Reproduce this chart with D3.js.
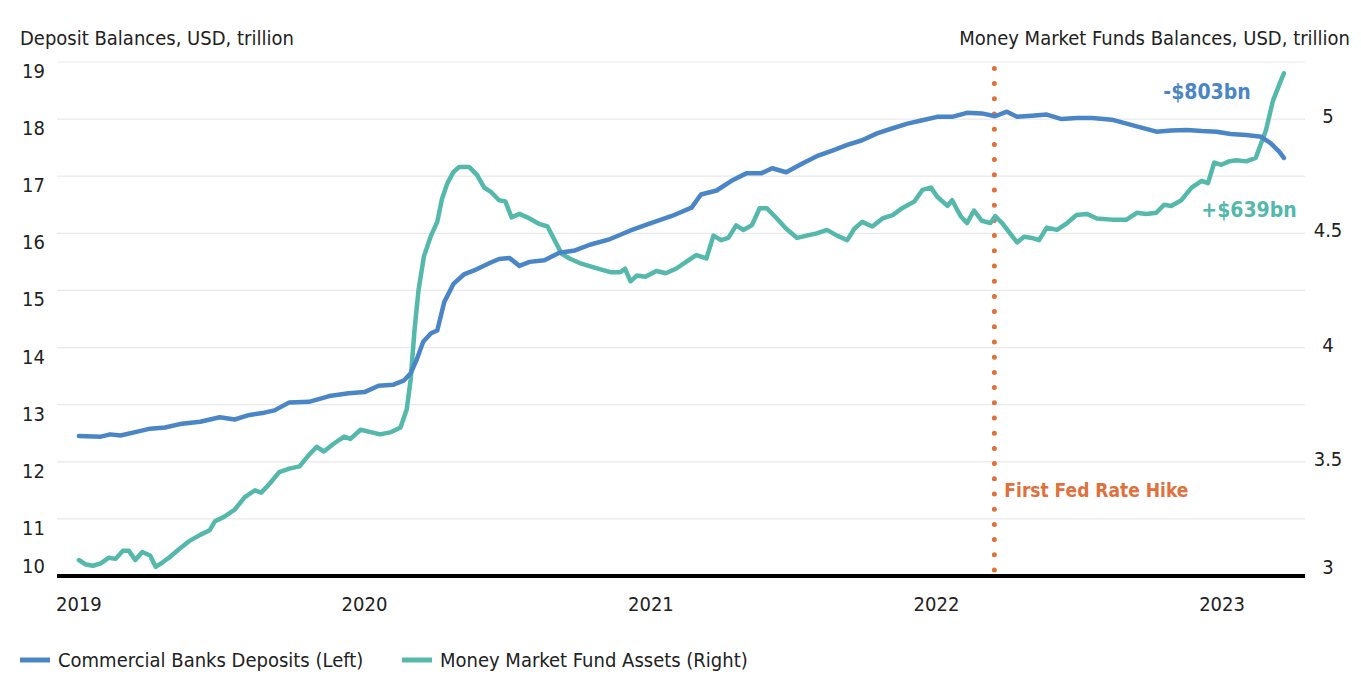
<!DOCTYPE html>
<html>
<head>
<meta charset="utf-8">
<script src="https://cdn.jsdelivr.net/npm/d3@7"></script>
<style>
  body { margin: 0; background: #fff; }
  text { font-family: "Liberation Sans Narrow", "DejaVu Sans Condensed", "Roboto", sans-serif; fill: #222; }
</style>
</head>
<body>
<div id="chart"></div>
<script>
// deposits (left axis), decimal years and USD trillion
const depositTimes = [2019.000, 2019.076, 2019.110, 2019.146, 2019.198, 2019.250, 2019.300, 2019.354, 2019.424, 2019.493,
  2019.545, 2019.597, 2019.649, 2019.684, 2019.736, 2019.806, 2019.875, 2019.944, 2020.000, 2020.049,
  2020.102, 2020.137, 2020.162, 2020.183, 2020.204, 2020.232, 2020.254, 2020.278, 2020.313, 2020.349,
  2020.384, 2020.437, 2020.472, 2020.507, 2020.542, 2020.577, 2020.630, 2020.683, 2020.736, 2020.789,
  2020.859, 2020.930, 2021.000, 2021.070, 2021.141, 2021.176, 2021.229, 2021.282, 2021.335, 2021.387,
  2021.423, 2021.475, 2021.528, 2021.581, 2021.634, 2021.687, 2021.739, 2021.792, 2021.845, 2021.898,
  2021.951, 2022.003, 2022.056, 2022.108, 2022.160, 2022.206, 2022.247, 2022.282, 2022.334, 2022.387,
  2022.439, 2022.491, 2022.544, 2022.613, 2022.666, 2022.718, 2022.770, 2022.822, 2022.875, 2022.927,
  2022.979, 2023.031, 2023.084, 2023.136, 2023.171, 2023.199, 2023.216];
const depositValues = [12.45, 12.44, 12.48, 12.46, 12.52, 12.58, 12.60, 12.66, 12.70, 12.78,
  12.74, 12.82, 12.86, 12.90, 13.04, 13.05, 13.15, 13.20, 13.22, 13.33,
  13.35, 13.42, 13.55, 13.80, 14.10, 14.25, 14.30, 14.80, 15.12, 15.28,
  15.35, 15.48, 15.55, 15.57, 15.43, 15.50, 15.53, 15.66, 15.70, 15.80,
  15.90, 16.05, 16.18, 16.30, 16.45, 16.68, 16.75, 16.92, 17.05, 17.05,
  17.14, 17.07, 17.22, 17.35, 17.45, 17.55, 17.63, 17.75, 17.84, 17.92,
  17.98, 18.04, 18.04, 18.11, 18.10, 18.05, 18.13, 18.04, 18.06, 18.08,
  18.00, 18.02, 18.02, 17.99, 17.92, 17.85, 17.78, 17.80, 17.81, 17.79,
  17.78, 17.74, 17.72, 17.69, 17.58, 17.43, 17.32];

// money market fund assets (right axis), decimal years and USD trillion
const mmfTimes = [2019.000, 2019.024, 2019.049, 2019.076, 2019.104, 2019.128, 2019.153, 2019.174, 2019.198, 2019.222,
  2019.250, 2019.267, 2019.292, 2019.319, 2019.354, 2019.389, 2019.424, 2019.458, 2019.476, 2019.510,
  2019.545, 2019.580, 2019.615, 2019.639, 2019.667, 2019.701, 2019.736, 2019.771, 2019.806, 2019.833,
  2019.858, 2019.892, 2019.927, 2019.951, 2019.986, 2020.021, 2020.056, 2020.092, 2020.127, 2020.148,
  2020.162, 2020.176, 2020.190, 2020.208, 2020.232, 2020.254, 2020.271, 2020.289, 2020.313, 2020.331,
  2020.366, 2020.394, 2020.419, 2020.444, 2020.472, 2020.493, 2020.514, 2020.542, 2020.570, 2020.613,
  2020.641, 2020.665, 2020.690, 2020.718, 2020.754, 2020.806, 2020.859, 2020.894, 2020.912, 2020.930,
  2020.954, 2020.982, 2021.018, 2021.053, 2021.088, 2021.123, 2021.158, 2021.194, 2021.218, 2021.246,
  2021.271, 2021.299, 2021.324, 2021.352, 2021.380, 2021.405, 2021.440, 2021.475, 2021.511, 2021.546,
  2021.581, 2021.616, 2021.651, 2021.687, 2021.711, 2021.739, 2021.775, 2021.810, 2021.845, 2021.880,
  2021.923, 2021.951, 2021.979, 2022.003, 2022.038, 2022.056, 2022.084, 2022.108, 2022.132, 2022.160,
  2022.188, 2022.206, 2022.230, 2022.258, 2022.282, 2022.307, 2022.334, 2022.359, 2022.387, 2022.422,
  2022.456, 2022.491, 2022.526, 2022.561, 2022.613, 2022.666, 2022.700, 2022.735, 2022.770, 2022.798,
  2022.822, 2022.857, 2022.892, 2022.927, 2022.951, 2022.972, 2022.997, 2023.024, 2023.049, 2023.084,
  2023.118, 2023.153, 2023.178, 2023.199, 2023.216];
const mmfValues = [3.070, 3.050, 3.045, 3.055, 3.080, 3.075, 3.110, 3.110, 3.070, 3.105,
  3.090, 3.040, 3.060, 3.085, 3.120, 3.155, 3.180, 3.200, 3.240, 3.260,
  3.290, 3.345, 3.375, 3.365, 3.405, 3.455, 3.470, 3.480, 3.530, 3.565,
  3.545, 3.580, 3.610, 3.600, 3.640, 3.630, 3.620, 3.630, 3.650, 3.730,
  3.860, 4.080, 4.250, 4.400, 4.490, 4.550, 4.650, 4.720, 4.770, 4.790,
  4.790, 4.755, 4.700, 4.680, 4.645, 4.640, 4.570, 4.585, 4.570, 4.540,
  4.530, 4.470, 4.410, 4.390, 4.370, 4.350, 4.330, 4.330, 4.345, 4.290,
  4.315, 4.310, 4.335, 4.325, 4.345, 4.375, 4.405, 4.390, 4.490, 4.470,
  4.480, 4.535, 4.515, 4.535, 4.610, 4.610, 4.565, 4.520, 4.480, 4.490,
  4.500, 4.515, 4.490, 4.470, 4.520, 4.550, 4.530, 4.565, 4.580, 4.610,
  4.640, 4.690, 4.700, 4.660, 4.620, 4.645, 4.575, 4.545, 4.600, 4.555,
  4.545, 4.575, 4.545, 4.500, 4.460, 4.485, 4.480, 4.470, 4.525, 4.515,
  4.545, 4.580, 4.585, 4.565, 4.560, 4.560, 4.590, 4.585, 4.590, 4.625,
  4.620, 4.645, 4.700, 4.730, 4.720, 4.810, 4.800, 4.815, 4.820, 4.815,
  4.830, 4.950, 5.080, 5.150, 5.200];

const leftTicks = [10, 11, 12, 13, 14, 15, 16, 17, 18, 19];
const rightTicks = [3, 3.5, 4, 4.5, 5];
const yearTicks = [2019, 2020, 2021, 2022, 2023];
const hikeDate = "2022-03-16";
const seriesNames = ["Commercial Banks Deposits (Left)", "Money Market Fund Assets (Right)"];
const changeLabels = ["-$803bn", "+$639bn"];

const colors = { deposits: "#4a86c6", mmf: "#54b8aa", hike: "#e0703c", grid: "#e9e9e9" };

const width = 1361, height = 684;
const margin = { top: 62, right: 56, bottom: 108, left: 57 };

function toDate(t) {
  const y = Math.floor(t);
  return new Date(y, 0, 1 + Math.round((t - y) * 365.25));
}

const deposits = depositTimes.map((t, i) => ({ date: toDate(t), value: depositValues[i] }));
const mmf = mmfTimes.map((t, i) => ({ date: toDate(t), value: mmfValues[i] }));

const svg = d3.select("#chart").append("svg")
  .attr("width", width)
  .attr("height", height);

const x = d3.scaleTime()
  .domain([new Date(2018, 11, 4), new Date(2023, 3, 17)])
  .range([margin.left, width - margin.right]);

const yLeft = d3.scaleLinear()
  .domain([10, 19])
  .range([height - margin.bottom, margin.top]);

const yRight = d3.scaleLinear()
  .domain([3, 5.25])
  .range([height - margin.bottom, margin.top]);

// gridlines
svg.append("g")
  .attr("class", "grid")
  .selectAll("line")
  .data(leftTicks.slice(1))
  .enter()
  .append("line")
  .attr("x1", margin.left)
  .attr("x2", width - margin.right)
  .attr("y1", d => yLeft(d))
  .attr("y2", d => yLeft(d))
  .attr("stroke", colors.grid)
  .attr("stroke-width", 1.2);

// left axis labels
svg.append("g")
  .attr("class", "leftAxis")
  .selectAll("text")
  .data(leftTicks)
  .enter()
  .append("text")
  .attr("x", 22)
  .attr("y", d => yLeft(d) + (d === 10 ? -10 : 9))
  .attr("dy", "0.35em")
  .style("font-size", "20px")
  .text(d => d);

// right axis labels
svg.append("g")
  .attr("class", "rightAxis")
  .selectAll("text")
  .data(rightTicks)
  .enter()
  .append("text")
  .attr("x", 1328)
  .attr("y", d => yRight(d) + (d === 3 ? -9 : -3))
  .attr("dy", "0.35em")
  .style("text-anchor", "middle")
  .style("font-size", "20px")
  .text(d => d);

// year labels
svg.append("g")
  .attr("class", "xAxis")
  .selectAll("text")
  .data(yearTicks)
  .enter()
  .append("text")
  .attr("x", d => x(new Date(d, 0, 1)))
  .attr("y", 604)
  .attr("dy", "0.35em")
  .style("text-anchor", "middle")
  .style("font-size", "20px")
  .text(d => d);

// axis titles
svg.append("text")
  .attr("x", 20)
  .attr("y", 38)
  .attr("dy", "0.35em")
  .style("font-size", "20px")
  .text("Deposit Balances, USD, trillion");

svg.append("text")
  .attr("x", 1350)
  .attr("y", 38)
  .attr("dy", "0.35em")
  .style("text-anchor", "end")
  .style("font-size", "20px")
  .text("Money Market Funds Balances, USD, trillion");

// fed hike marker
const xHike = x(new Date(hikeDate));
svg.append("line")
  .attr("x1", xHike)
  .attr("x2", xHike)
  .attr("y1", yLeft(10) - 6)
  .attr("y2", margin.top + 4)
  .attr("stroke", colors.hike)
  .attr("stroke-width", 5)
  .attr("stroke-linecap", "round")
  .attr("stroke-dasharray", "0,15.2");

svg.append("text")
  .attr("x", xHike + 10)
  .attr("y", 490)
  .attr("dy", "0.35em")
  .style("fill", colors.hike)
  .style("font-size", "19px")
  .style("font-weight", "bold")
  .text("First Fed Rate Hike");

// lines
const lineLeft = d3.line()
  .x(d => x(d.date))
  .y(d => yLeft(d.value));

const lineRight = d3.line()
  .x(d => x(d.date))
  .y(d => yRight(d.value));

svg.append("path")
  .datum(mmf)
  .attr("fill", "none")
  .attr("stroke", colors.mmf)
  .attr("stroke-width", 4.5)
  .attr("stroke-linejoin", "round")
  .attr("stroke-linecap", "round")
  .attr("d", lineRight);

svg.append("path")
  .datum(deposits)
  .attr("fill", "none")
  .attr("stroke", colors.deposits)
  .attr("stroke-width", 4.5)
  .attr("stroke-linejoin", "round")
  .attr("stroke-linecap", "round")
  .attr("d", lineLeft);

// baseline
svg.append("line")
  .attr("x1", margin.left)
  .attr("x2", width - margin.right)
  .attr("y1", yLeft(10))
  .attr("y2", yLeft(10))
  .attr("stroke", "#000")
  .attr("stroke-width", 4);

// change annotations
svg.append("text")
  .attr("x", 1207)
  .attr("y", 92)
  .attr("dy", "0.35em")
  .style("text-anchor", "middle")
  .style("fill", colors.deposits)
  .style("font-size", "21px")
  .style("font-weight", "bold")
  .text(changeLabels[0]);

svg.append("text")
  .attr("x", 1249)
  .attr("y", 210)
  .attr("dy", "0.35em")
  .style("text-anchor", "middle")
  .style("fill", colors.mmf)
  .style("font-size", "21px")
  .style("font-weight", "bold")
  .text(changeLabels[1]);

// legend
const legend = svg.append("g")
  .attr("class", "legend")
  .selectAll("g")
  .data(seriesNames)
  .enter()
  .append("g")
  .attr("transform", (d, i) => `translate(${i === 0 ? 20 : 402}, 660)`);

legend.append("line")
  .attr("x1", 0)
  .attr("x2", 30)
  .attr("stroke", (d, i) => i === 0 ? colors.deposits : colors.mmf)
  .attr("stroke-width", 5);

legend.append("text")
  .attr("x", 38)
  .attr("dy", "0.35em")
  .style("font-size", "20px")
  .text(d => d);
</script>
</body>
</html>
